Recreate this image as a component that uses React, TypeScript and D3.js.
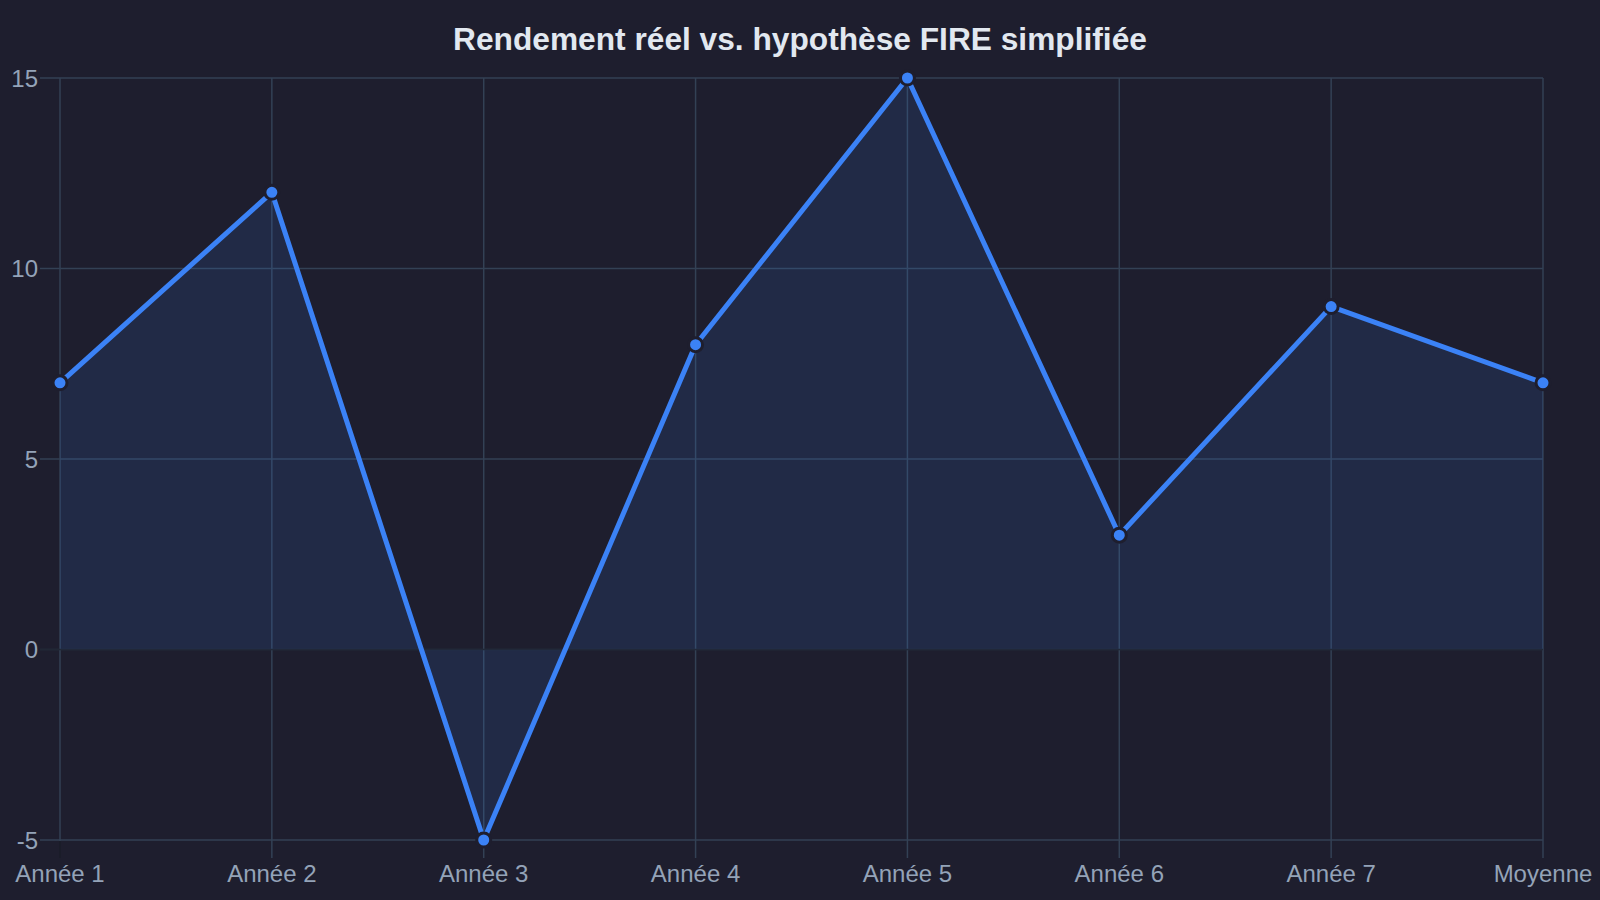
import { useEffect, useRef } from "react";
import * as d3 from "d3";

// data
const categories = ["Année 1", "Année 2", "Année 3", "Année 4", "Année 5", "Année 6", "Année 7", "Moyenne"];
const returns = [7, 12, -5, 8, 15, 3, 9, 7];
const yTicks = [-5, 0, 5, 10, 15];
const title = "Rendement réel vs. hypothèse FIRE simplifiée";

const W = 1600;
const H = 900;
const BG = "#1e1e2e";
const GRID = "#334155";
const BLUE = "#3b82f6";
const FONT = "'Liberation Sans', Arial, sans-serif";

export default function App() {
    const svgRef = useRef<SVGSVGElement>(null);

    useEffect(() => {
        const svg = d3.select(svgRef.current);
        svg.selectAll("*").remove();

        const left = 60;
        const right = 1543;
        const top = 78;
        const bottom = 840;

        const x = d3.scalePoint<string>().domain(categories).range([left, right]);
        const y = d3.scaleLinear().domain([-5, 15]).range([bottom, top]);

        const rows = categories.map((c, i) => ({ c, v: returns[i] }));

        svg.append("rect").attr("width", W).attr("height", H).attr("fill", BG);

        // title
        svg.append("text")
            .attr("x", W / 2)
            .attr("y", 50)
            .attr("text-anchor", "middle")
            .attr("fill", "#e2e8f0")
            .attr("font-family", FONT)
            .attr("font-size", 31.7)
            .attr("font-weight", 700)
            .text(title);

        // grid
        const grid = svg.append("g");
        grid.selectAll(".h")
            .data(yTicks)
            .join("line")
            .attr("x1", left - 20)
            .attr("x2", right)
            .attr("y1", (d) => y(d))
            .attr("y2", (d) => y(d))
            .attr("stroke", GRID)
            .attr("stroke-width", 1.5);
        grid.selectAll(".v")
            .data(categories)
            .join("line")
            .attr("x1", (d) => x(d)!)
            .attr("x2", (d) => x(d)!)
            .attr("y1", top)
            .attr("y2", bottom + 18)
            .attr("stroke", GRID)
            .attr("stroke-width", 1.5);

        // area to zero
        const area = d3.area<{ c: string; v: number }>()
            .x((d) => x(d.c)!)
            .y0(y(0))
            .y1((d) => y(d.v));
        svg.append("path")
            .datum(rows)
            .attr("d", area)
            .attr("fill", BLUE)
            .attr("fill-opacity", 0.12);

        // axis lines (dark)
        svg.append("line")
            .attr("x1", left - 20)
            .attr("x2", right)
            .attr("y1", y(0))
            .attr("y2", y(0))
            .attr("stroke", "#15151f")
            .attr("stroke-opacity", 0.6)
            .attr("stroke-width", 1.5);
        svg.append("line")
            .attr("x1", left)
            .attr("x2", left)
            .attr("y1", bottom + 1)
            .attr("y2", bottom + 18)
            .attr("stroke", "#15151f")
            .attr("stroke-width", 1.5);

        // line
        const line = d3.line<{ c: string; v: number }>()
            .x((d) => x(d.c)!)
            .y((d) => y(d.v));
        svg.append("path")
            .datum(rows)
            .attr("d", line)
            .attr("fill", "none")
            .attr("stroke", BLUE)
            .attr("stroke-width", 5)
            .attr("stroke-linejoin", "round");

        svg.selectAll(".pt")
            .data(rows)
            .join("circle")
            .attr("cx", (d) => x(d.c)!)
            .attr("cy", (d) => y(d.v))
            .attr("r", 7)
            .attr("fill", BLUE)
            .attr("stroke", BG)
            .attr("stroke-width", 3);

        // tick labels
        svg.selectAll(".yl")
            .data(yTicks)
            .join("text")
            .attr("x", left - 22)
            .attr("y", (d) => y(d))
            .attr("dy", "0.36em")
            .attr("text-anchor", "end")
            .attr("fill", "#94a3b8")
            .attr("font-family", FONT)
            .attr("font-size", 24)
            .text((d) => String(d));

        svg.selectAll(".xl")
            .data(categories)
            .join("text")
            .attr("x", (d) => x(d)!)
            .attr("y", 882)
            .attr("text-anchor", "middle")
            .attr("fill", "#94a3b8")
            .attr("font-family", FONT)
            .attr("font-size", 24)
            .text((d) => d);
    }, []);

    return (
        <svg
            ref={svgRef}
            width={W}
            height={H}
            style={{ position: "absolute", left: 0, top: 0, display: "block" }}
        />
    );
}
